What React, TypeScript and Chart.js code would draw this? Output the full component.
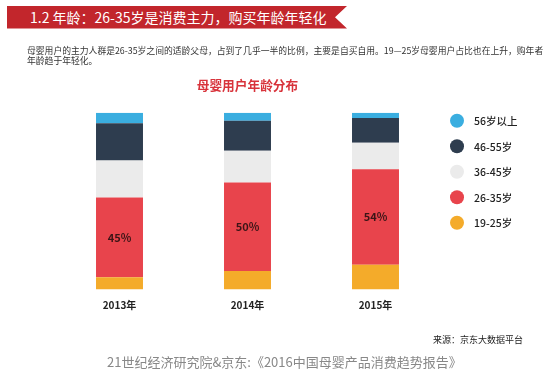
import React, { useEffect, useRef } from "react";
import { Chart, registerables } from "chart.js";

Chart.register(...registerables);

const categories = ["2013年", "2014年", "2015年"];
const seriesNames = ["19-25岁", "26-35岁", "36-45岁", "46-55岁", "56岁以上"];
const age19to25 = [7, 10.5, 14];
const age26to35 = [45, 50, 54];
const age36to45 = [21, 18, 15];
const age46to55 = [21, 17, 14];
const age56plus = [6, 4.5, 3];
const seriesColors = ["#f4ab2a", "#e8444c", "#ebebeb", "#2e3d4f", "#3aaee0"];

const FONT = '"Noto Sans CJK SC", "Noto Sans", sans-serif';

const legendPlugin = {
  id: "customLegend",
  afterDraw(chart: any) {
    const ctx = chart.ctx;
    const ds = chart.data.datasets;
    ctx.save();
    for (let i = 0; i < ds.length; i++) {
      const d = ds[ds.length - 1 - i];
      const y = 120.7 + i * 25.5;
      ctx.beginPath();
      ctx.arc(457, y, 7, 0, Math.PI * 2);
      ctx.fillStyle = d.backgroundColor;
      ctx.fill();
      ctx.fillStyle = "#222";
      ctx.font = `500 10.5px ${FONT}`;
      ctx.textAlign = "left";
      ctx.textBaseline = "middle";
      ctx.fillText(d.label, 474, y + 0.5);
    }
    ctx.restore();
  },
};

const valueLabelPlugin = {
  id: "valueLabels",
  afterDatasetsDraw(chart: any) {
    const ctx = chart.ctx;
    const meta = chart.getDatasetMeta(1);
    const data = chart.data.datasets[1].data;
    ctx.save();
    ctx.fillStyle = "#3b1517";
    ctx.font = `bold 11px ${FONT}`;
    ctx.textAlign = "center";
    ctx.textBaseline = "middle";
    meta.data.forEach((bar: any, i: number) => {
      const cy = (bar.y + bar.base) / 2;
      ctx.fillText(`${data[i]}%`, bar.x, cy);
    });
    ctx.restore();
  },
};

function ChartCanvas() {
  const ref = useRef<HTMLCanvasElement>(null);
  useEffect(() => {
    const values = [age19to25, age26to35, age36to45, age46to55, age56plus];
    const chart = new Chart(ref.current!, {
      type: "bar",
      data: {
        labels: categories,
        datasets: seriesNames.map((name, i) => ({
          label: name,
          data: values[i],
          backgroundColor: seriesColors[i],
          borderWidth: 0,
          categoryPercentage: 1,
          barPercentage: 0.367,
        })),
      },
      options: {
        animation: false,
        responsive: false,
        maintainAspectRatio: false,
        layout: { padding: { left: 55.5, right: 114.5, top: 112.7, bottom: 50.4 } },
        plugins: { legend: { display: false }, tooltip: { enabled: false } },
        scales: {
          x: {
            stacked: true,
            grid: { display: false, drawTicks: false },
            border: { display: false },
            ticks: { color: "#222", font: { family: FONT, size: 10, weight: "bold" }, padding: 10 },
          },
          y: { stacked: true, display: false, min: 0, max: 100 },
        },
      },
      plugins: [legendPlugin, valueLabelPlugin],
    });
    return () => chart.destroy();
  }, []);
  return <canvas ref={ref} width={554} height={372} style={{ position: "absolute", left: 0, top: 0, width: 554, height: 372 }} />;
}

export default function App() {
  return (
    <div style={{ position: "fixed", left: 0, top: 0, width: 554, height: 372, background: "#fff", fontFamily: FONT, overflow: "hidden" }}>
      <ChartCanvas />
      <div
        style={{
          position: "absolute", left: 7, top: 6, width: 340, height: 22.5, background: "#c2262c",
          clipPath: "polygon(0 0, 100% 0, calc(100% - 12px) 50%, 100% 100%, 0 100%)",
          color: "#fff", fontSize: 14, lineHeight: "22.5px", paddingLeft: 23, boxSizing: "border-box", whiteSpace: "nowrap",
        }}
      >
        1.2 年龄：26-35岁是消费主力，购买年龄年轻化
      </div>
      <div style={{ position: "absolute", left: 27, top: 46, fontSize: 8.8, color: "#333", lineHeight: "10px", whiteSpace: "nowrap" }}>
        <div>母婴用户的主力人群是26-35岁之间的适龄父母，占到了几乎一半的比例，主要是自买自用。19—25岁母婴用户占比也在上升，购年者</div>
        <div>年龄趋于年轻化。</div>
      </div>
      <div style={{ position: "absolute", left: 0, width: 495, top: 77, textAlign: "center", color: "#d8333b", fontWeight: "bold", fontSize: 12.7, lineHeight: "16px" }}>
        母婴用户年龄分布
      </div>
      <div style={{ position: "absolute", left: 433, top: 334, fontSize: 9, color: "#222", lineHeight: "12px", whiteSpace: "nowrap" }}>
        来源：京东大数据平台
      </div>
      <div style={{ position: "absolute", left: 107, top: 353, fontSize: 13, color: "#888", lineHeight: "17px", whiteSpace: "nowrap" }}>
        21世纪经济研究院&amp;京东:《2016中国母婴产品消费趋势报告》
      </div>
    </div>
  );
}
